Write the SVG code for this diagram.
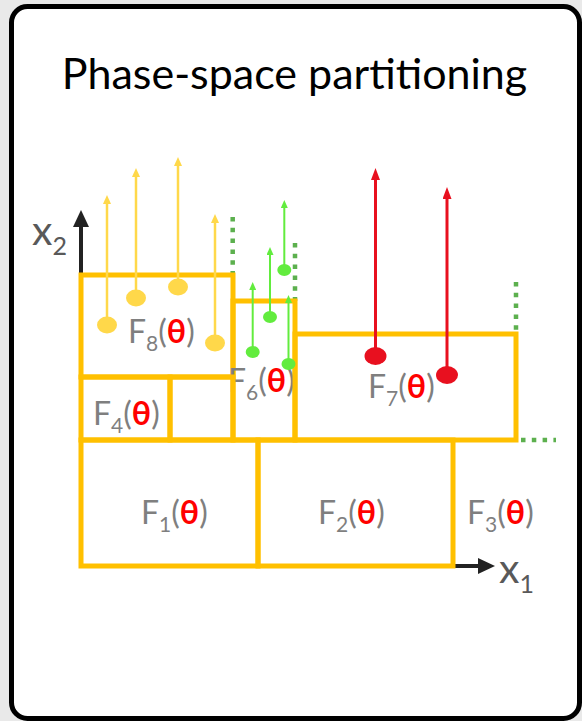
<svg xmlns="http://www.w3.org/2000/svg" width="582" height="721" viewBox="0 0 582 721">
<style>
.cell{fill:none;stroke:#FFC000;stroke-width:5;stroke-linejoin:miter}
.lbl{font-family:Lato,"Liberation Sans",sans-serif;font-size:32px;fill:#7f7f7f}
.sub{font-size:21px}
.th{fill:#FF0000;font-weight:bold}
.ax{font-family:Lato,"Liberation Sans",sans-serif;fill:#595959}
.dot{fill:none;stroke:#5CB04E;stroke-width:4.5;stroke-dasharray:4.5 6.3}
.ya{stroke:#FFD84A;stroke-width:2.5;fill:none}
.ga{stroke:#62EC3E;stroke-width:2;fill:none}
.ra{stroke:#E8101F;stroke-width:3;fill:none}
</style>
<defs>
<marker id="hy" markerUnits="userSpaceOnUse" markerWidth="10" markerHeight="8" refX="0" refY="4" orient="auto"><path d="M0,0 L9,4 L0,8 z" fill="#FFD84A"/></marker>
<marker id="hg" markerUnits="userSpaceOnUse" markerWidth="9" markerHeight="7" refX="0" refY="3.5" orient="auto"><path d="M0,0 L8,3.5 L0,7 z" fill="#62EC3E"/></marker>
<marker id="hr" markerUnits="userSpaceOnUse" markerWidth="13" markerHeight="9" refX="0" refY="4.5" orient="auto"><path d="M0,0 L12,4.5 L0,9 z" fill="#E8101F"/></marker>
<marker id="hk" markerUnits="userSpaceOnUse" markerWidth="18" markerHeight="16" refX="0" refY="8" orient="auto"><path d="M0,0 L17,8 L0,16 z" fill="#222"/></marker>
</defs>
<rect x="0" y="0" width="582" height="721" fill="#E9E9E9"/>
<rect x="11.5" y="6.5" width="568" height="712" rx="16" fill="#fff" stroke="#000" stroke-width="5"/>
<text x="294.5" y="89" text-anchor="middle" font-family="Lato,'Liberation Sans',sans-serif" font-size="43" fill="#000">Phase-space partitioning</text>

<g id="axes">
<line x1="81" y1="275" x2="81" y2="227" stroke="#222" stroke-width="4" marker-end="url(#hk)"/>
<line x1="453" y1="566" x2="478" y2="566" stroke="#222" stroke-width="4" marker-end="url(#hk)"/>
<text class="ax" x="32" y="245" font-size="41">x<tspan font-size="25" dy="10">2</tspan></text>
<text class="ax" x="499" y="583" font-size="41">x<tspan font-size="25" dy="10">1</tspan></text>
</g>

<g id="boundaries">
<line class="dot" x1="232.7" y1="217" x2="232.7" y2="275"/>
<line class="dot" x1="295" y1="243" x2="295" y2="301"/>
<line class="dot" x1="516" y1="282" x2="516" y2="334"/>
<line class="dot" x1="521" y1="440" x2="556" y2="440"/>
</g>

<g id="F8"><rect class="cell" x="81" y="275" width="152" height="102"/>
<text class="lbl" x="128" y="343">F<tspan class="sub" dy="8">8</tspan><tspan dy="-8">(</tspan><tspan class="th">θ</tspan>)</text></g>
<g id="F6"><rect class="cell" x="233" y="301" width="62" height="139"/>
<text class="lbl" x="228" y="392">F<tspan class="sub" dy="8">6</tspan><tspan dy="-8">(</tspan><tspan class="th">θ</tspan>)</text></g>
<g id="F7"><rect class="cell" x="295" y="334" width="221" height="106"/>
<text class="lbl" x="368" y="398">F<tspan class="sub" dy="8">7</tspan><tspan dy="-8">(</tspan><tspan class="th">θ</tspan>)</text></g>
<g id="F4"><rect class="cell" x="81" y="377" width="89" height="63"/>
<text class="lbl" x="93" y="425">F<tspan class="sub" dy="8">4</tspan><tspan dy="-8">(</tspan><tspan class="th">θ</tspan>)</text></g>
<g id="F5"><rect class="cell" x="170" y="377" width="63" height="63"/></g>
<g id="F1"><rect class="cell" x="81" y="440" width="177" height="126"/>
<text class="lbl" x="141" y="524">F<tspan class="sub" dy="8">1</tspan><tspan dy="-8">(</tspan><tspan class="th">θ</tspan>)</text></g>
<g id="F2"><rect class="cell" x="258" y="440" width="195" height="126"/>
<text class="lbl" x="318" y="524">F<tspan class="sub" dy="8">2</tspan><tspan dy="-8">(</tspan><tspan class="th">θ</tspan>)</text></g>
<g id="F3">
<text class="lbl" x="467" y="524">F<tspan class="sub" dy="8">3</tspan><tspan dy="-8">(</tspan><tspan class="th">θ</tspan>)</text></g>

<g id="connectors">
<line class="ya" x1="107" y1="325" x2="107" y2="204" marker-end="url(#hy)"/>
<line class="ya" x1="136" y1="298" x2="136" y2="177" marker-end="url(#hy)"/>
<line class="ya" x1="178" y1="287" x2="178" y2="166" marker-end="url(#hy)"/>
<line class="ya" x1="215" y1="343" x2="215" y2="223" marker-end="url(#hy)"/>
<g fill="#FFD84A">
<ellipse cx="107" cy="325" rx="10" ry="8.5"/>
<ellipse cx="136" cy="298" rx="10" ry="8.5"/>
<ellipse cx="178" cy="287" rx="10" ry="8.5"/>
<ellipse cx="215" cy="343" rx="10" ry="8.5"/>
</g>
<line class="ga" x1="252.7" y1="352" x2="252.7" y2="290" marker-end="url(#hg)"/>
<line class="ga" x1="270" y1="317" x2="270" y2="255" marker-end="url(#hg)"/>
<line class="ga" x1="284.3" y1="270" x2="284.3" y2="208" marker-end="url(#hg)"/>
<line class="ga" x1="288.5" y1="364" x2="288.5" y2="303" marker-end="url(#hg)"/>
<g fill="#62EC3E">
<ellipse cx="252.7" cy="352" rx="7" ry="6"/>
<ellipse cx="270" cy="317" rx="7" ry="6"/>
<ellipse cx="284.3" cy="270" rx="7" ry="6"/>
<ellipse cx="288.5" cy="364" rx="7" ry="6"/>
</g>
<line class="ra" x1="375.5" y1="356" x2="375.5" y2="180" marker-end="url(#hr)"/>
<line class="ra" x1="447" y1="375" x2="447" y2="199" marker-end="url(#hr)"/>
<g fill="#E8101F">
<ellipse cx="375.5" cy="356" rx="11" ry="9"/>
<ellipse cx="447" cy="375" rx="11" ry="9"/>
</g>
</g>
</svg>
